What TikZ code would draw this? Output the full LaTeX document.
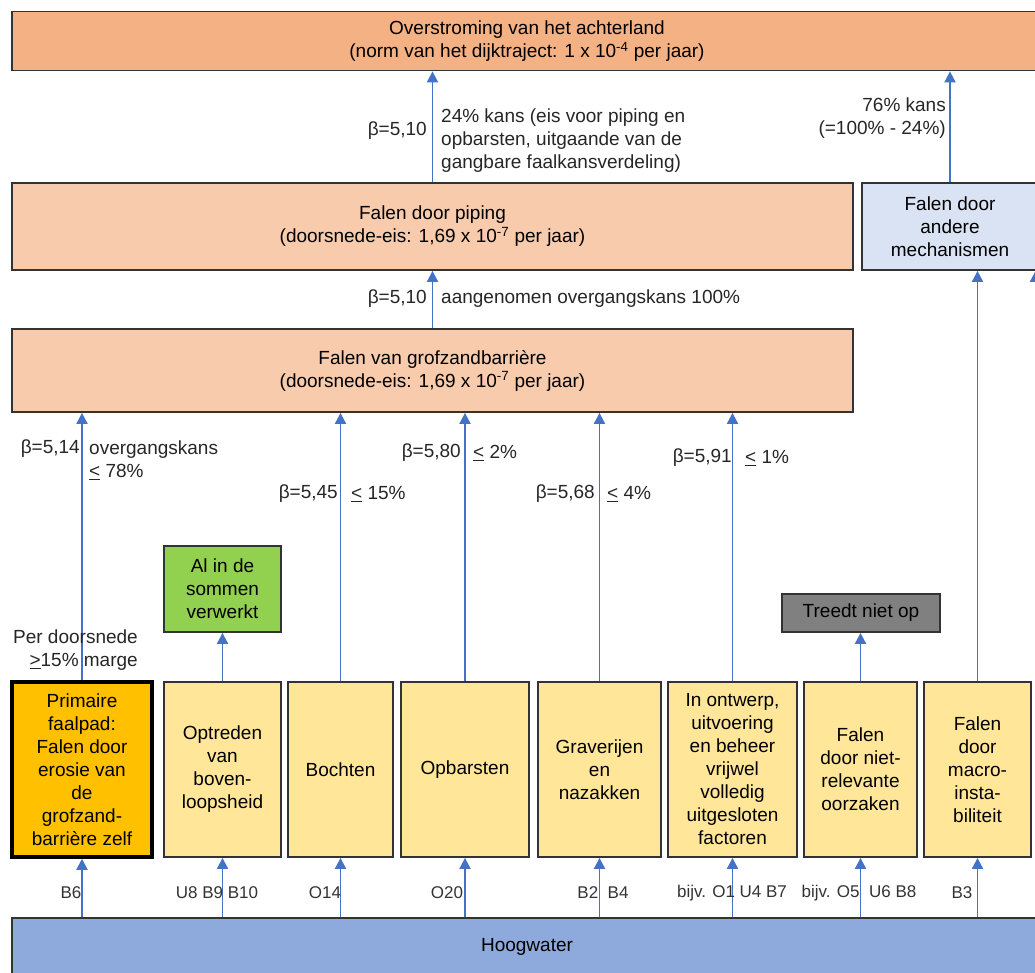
\documentclass[tikz,border=0pt]{standalone}
\usepackage{fontspec}
\setmainfont{Liberation Sans}
\usepackage{tikz}
\usetikzlibrary{positioning,arrows.meta}

\definecolor{oranjekop}{HTML}{F4B183}
\definecolor{zalm}{HTML}{F8CBAD}
\definecolor{lichtblauw}{HTML}{DAE3F3}
\definecolor{geel}{HTML}{FFE699}
\definecolor{amber}{HTML}{FFC000}
\definecolor{groen}{HTML}{92D050}
\definecolor{grijs}{HTML}{808080}
\definecolor{water}{HTML}{8EA9DB}
\definecolor{pijlblauw}{HTML}{4472C4}

\tikzset{
  blok/.style={draw=black!80, line width=1.8pt, align=center, inner sep=2pt,
    font=\fontsize{19}{23}\selectfont},
  oorzaak/.style={blok, fill=geel, minimum width=#1, minimum height=175pt},
  pijl/.style={draw=pijlblauw, line width=1.9pt, -{Triangle[width=11pt,length=11pt]}},
  lbl/.style={font=\fontsize{19}{23}\selectfont, inner sep=0pt, text=black!85},
  code/.style={font=\fontsize{17}{20}\selectfont, inner sep=0pt, text=black!80},
}

\begin{document}
\begin{tikzpicture}[x=1pt,y=-1pt]
        \clip (0,0) rectangle (1035,972);

        % Top levels
        \node[blok, fill=oranjekop, minimum width=1030pt, minimum height=59pt] (overstroming) at (527,41)
          {Overstroming van het achterland\\(norm van het dijktraject: 1 x 10\textsuperscript{-4} per jaar)};
        \node[blok, fill=zalm, minimum width=841pt, minimum height=87pt] (piping) at (432.5,226.5)
          {Falen door piping\\(doorsnede-eis: 1,69 x 10\textsuperscript{-7} per jaar)};
        \node[blok, fill=lichtblauw, minimum width=176pt, minimum height=87pt] (andere) at (950,226.5)
          {Falen door\\andere\\mechanismen};
        \node[blok, fill=zalm, minimum width=841pt, minimum height=83pt] (grofzand) at (432.5,370.5)
          {Falen van grofzandbarrière\\(doorsnede-eis: 1,69 x 10\textsuperscript{-7} per jaar)};

        % Side boxes
        \node[blok, fill=groen, minimum width=117pt, minimum height=86pt] (verwerkt) at (222.5,589)
          {Al in de\\sommen\\verwerkt};
        \node[blok, fill=grijs, minimum width=158pt, minimum height=38pt] (nietop) at (861,613)
          {Treedt niet op};

        % Causes
        \node[blok, fill=amber, draw=black, line width=3.5pt, minimum width=140pt, minimum height=175pt] (primair) at (82,769.5)
          {Primaire\\faalpad:\\Falen door\\erosie van\\de\\grofzand-\\barrière zelf};
        \node[oorzaak=117pt] (optreden) at (222.5,769.5) {Optreden\\van\\boven-\\loopsheid};
        \node[oorzaak=105pt] (bochten) at (340.5,769.5) {Bochten};
        \node[oorzaak=128pt] (opbarsten) at (465,769.5) {Opbarsten};
        \node[oorzaak=123pt] (graverijen) at (599.5,769.5) {Graverijen\\en\\nazakken};
        \node[oorzaak=129pt] (ontwerp) at (732.5,769.5)
          {In ontwerp,\\uitvoering\\en beheer\\vrijwel\\volledig\\uitgesloten\\factoren};
        \node[oorzaak=113pt] (nietrelevant) at (860.5,769.5) {Falen\\door niet-\\relevante\\oorzaken};
        \node[oorzaak=107pt] (macro) at (977.5,769.5) {Falen\\door\\macro-\\insta-\\biliteit};

        % Base
        \node[blok, fill=water, minimum width=1030pt, minimum height=58pt] (hoogwater) at (527,947) {Hoogwater};

        % Arrows upwards
        \draw[pijl] (piping.north) -- (piping.north |- overstroming.south);
        \draw[pijl] (andere.north) -- (andere.north |- overstroming.south);
        \draw[pijl] (grofzand.north) -- (piping.south);
        \foreach \n in {primair,bochten,opbarsten,graverijen,ontwerp}
          \draw[pijl] (\n.north) -- (\n.north |- grofzand.south);
        \draw[pijl] (macro.north) -- (macro.north |- andere.south);
        \coordinate (buiten) at (1035.5,682);
        \draw[pijl] (buiten) -- (buiten |- andere.south);
        \draw[pijl] (optreden.north) -- (verwerkt.south);
        \draw[pijl] (nietrelevant.north) -- (nietrelevant.north |- nietop.south);
        \foreach \n in {primair,optreden,bochten,opbarsten,graverijen,ontwerp,nietrelevant,macro}
          \draw[pijl] (\n.north |- hoogwater.north) -- (\n.south);

        % Labels along the arrows
        \node[lbl, anchor=east] (beta1) at (427,131) {β=5,10};
        \node[lbl, anchor=west, align=left] (kans1) at (441,141)
          {24\% kans (eis voor piping en\\opbarsten, uitgaande van de\\gangbare faalkansverdeling)};
        \node[lbl, anchor=east, align=right] (kans2) at (946,118) {76\% kans\\(=100\% - 24\%)};
        \node[lbl, anchor=east] (beta2) at (427,299) {β=5,10};
        \node[lbl, anchor=west] (kans3) at (441,299) {aangenomen overgangskans 100\%};
        \node[lbl, anchor=east] (beta3) at (80,449) {β=5,14};
        \node[lbl, anchor=west, align=left] (kans4) at (89,460) {overgangskans\\\underline{<} 78\%};
        \node[lbl, anchor=east] (beta4) at (338,494) {β=5,45};
        \node[lbl, anchor=west] (kans5) at (351,494) {\underline{<} 15\%};
        \node[lbl, anchor=east] (beta5) at (461,453) {β=5,80};
        \node[lbl, anchor=west] (kans6) at (473,453) {\underline{<} 2\%};
        \node[lbl, anchor=east] (beta6) at (595,494) {β=5,68};
        \node[lbl, anchor=west] (kans7) at (607,494) {\underline{<} 4\%};
        \node[lbl, anchor=east] (beta7) at (732,458) {β=5,91};
        \node[lbl, anchor=west] (kans8) at (745,458) {\underline{<} 1\%};
        \node[lbl, anchor=east, align=right] (marge) at (138,650) {Per doorsnede\\\underline{>}15\% marge};

        % Codes
        \node[code] at (71,893) {B6};
        \node[code] at (217,893) {U8 B9 B10};
        \node[code] at (325,893) {O14};
        \node[code] at (447,893) {O20};
        \node[code] at (603,893) {B2 \ B4};
        \node[code] at (732,893) {bijv. O1 U4 B7};
        \node[code] at (859,893) {bijv. O5 \ U6 B8};
        \node[code] at (962,893) {B3};
      \end{tikzpicture}
\end{document}
